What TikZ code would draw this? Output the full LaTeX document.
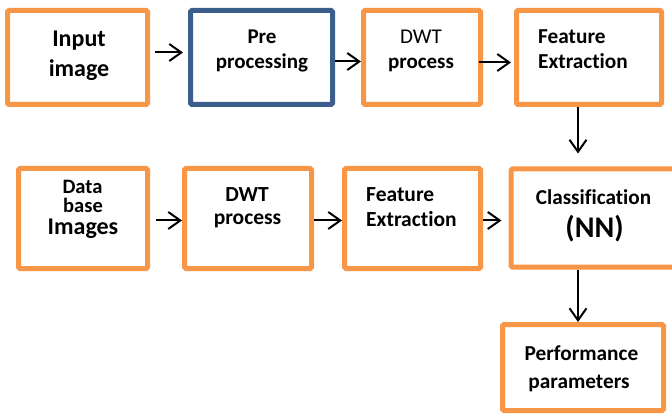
\documentclass[tikz,border=0pt]{standalone}
\usepackage{fontspec}
\setmainfont{Carlito}[Ligatures=NoCommon]
\usetikzlibrary{arrows.meta}
\definecolor{boxorange}{HTML}{F79646}
\definecolor{boxblue}{HTML}{3B5E8C}
\tikzset{
  box/.style={draw=boxorange, line width=5pt, rounded corners=1.5pt, fill=white, inner sep=0pt},
  bluebox/.style={box, draw=boxblue},
  arr/.style={line width=2pt, -{Straight Barb[length=12pt,width=17pt,line width=2pt]}},
  txt/.style={anchor=base, inner sep=0pt, font=\bfseries},
  txtw/.style={anchor=base west, inner sep=0pt, font=\bfseries},
}
\newcommand{\fs}[1]{\fontsize{#1}{#1}\selectfont}
\begin{document}
\begin{tikzpicture}[x=1pt,y=-1pt]
\useasboundingbox (0,0) rectangle (672,414);
% row 1 boxes
\node[box, minimum width=140pt, minimum height=94pt] (b1) at (77.5,57.5) {};
\node[bluebox, minimum width=142pt, minimum height=94pt] (b2) at (261.5,57.5) {};
\node[box, minimum width=117pt, minimum height=94pt] (b3) at (422,57.5) {};
\node[box, minimum width=145pt, minimum height=94pt] (b4) at (589,57.5) {};
% row 2 boxes
\node[box, minimum width=129pt, minimum height=100pt] (d1) at (83,218.5) {};
\node[box, minimum width=127pt, minimum height=100pt] (d2) at (248,218.5) {};
\node[box, minimum width=136pt, minimum height=100pt] (d3) at (412.5,218.5) {};
\node[box, minimum width=179pt, minimum height=98pt] (d4) at (600.5,218) {};
% performance
\node[box, minimum width=161pt, minimum height=86pt] (p) at (583,367.5) {};

% texts
\node[txt] (t1a) at (79,46.7) {\fs{24}Input};
\node[txt] (t1b) at (79,76.7) {\fs{24}image};
\node[txt] (t2a) at (262,43.3) {\fs{21}Pre};
\node[txt] (t2b) at (262,68.3) {\fs{21}processing};
\node[anchor=base, inner sep=0pt] (t3a) at (421,43.3) {\fs{21}DWT};
\node[txt] (t3b) at (421,68.3) {\fs{21}process};
\node[txtw] (t4a) at (538,43.3) {\fs{21.3}Feature};
\node[txtw] (t4b) at (538,68.3) {\fs{21.3}Extraction};

\node[txt] (u1a) at (82.5,194) {\fs{20.5}Data};
\node[txt] (u1b) at (83,212.5) {\fs{20.5}base};
\node[txt] (u1c) at (83,234) {\fs{24}Images};
\node[txt] (u2a) at (247,202) {\fs{21.5}DWT};
\node[txt] (u2b) at (247.5,225) {\fs{21.5}process};
\node[txtw] (u3a) at (366,202) {\fs{21.5}Feature};
\node[txtw] (u3b) at (366,227) {\fs{21.5}Extraction};
\node[txt] (u4a) at (593.5,205) {\fs{21.2}Classification};
\node[txt] (u4b) at (594.5,238) {\fs{30}(NN)};

\node[txt] (pa) at (581.5,360) {\fs{21.3}Performance};
\node[txt] (pb) at (579,388) {\fs{21.3}parameters};

% connectors
\draw[arr, shorten <=5pt, shorten >=5pt] (b1.east |- 0,52.5) -- (b2.west |- 0,52.5);
\draw[arr, shorten >=0pt] ([yshift=-4pt]b2.east) -- ([yshift=-4pt]b3.west);
\draw[arr, shorten <=-4pt, shorten >=3pt] ([yshift=-5pt]b3.east) -- ([yshift=-5pt]b4.west);
\draw[arr] ([xshift=-11pt]b4.south) -- ([xshift=-22.5pt,yshift=13pt]d4.north);

\draw[arr, shorten <=6pt, shorten >=0pt] ([yshift=-2pt]d1.east) -- ([yshift=-2pt]d2.west);
\draw[arr] ([yshift=-2pt]d2.east) -- ([yshift=-2pt]d3.west);
\draw[arr, shorten >=7pt] ([yshift=-2pt]d3.east) -- ([yshift=-2.5pt]d4.west);
\draw[arr] ([xshift=-5pt]d4.south -| p.north) -- ([xshift=-5pt]p.north);
\end{tikzpicture}
\end{document}
